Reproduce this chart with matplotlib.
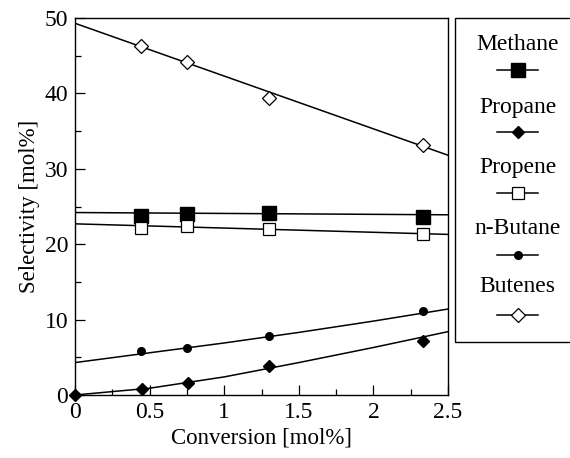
import numpy as np
import matplotlib
matplotlib.use('Agg')
import matplotlib.pyplot as plt
from matplotlib import font_manager
from matplotlib.patches import Rectangle
from matplotlib.ticker import MultipleLocator

# DATA
conv = [0.44, 0.75, 1.30, 2.33]
methane = [23.8, 24.0, 24.2, 23.6]
propene = [22.2, 22.4, 22.0, 21.3]
nbutane = [5.8, 6.2, 7.8, 11.1]
butenes = [46.3, 44.2, 39.4, 33.2]
propane_x = [0.0, 0.45, 0.76, 1.30, 2.33]
propane = [0.0, 0.8, 1.6, 3.8, 7.2]

# fitted curves as drawn in the figure
fit_x = [0.0, 0.5, 1.0, 1.5, 2.0, 2.5]
methane_fit = [24.2, 24.14, 24.08, 24.02, 23.96, 23.9]
propene_fit = [22.7, 22.42, 22.14, 21.86, 21.58, 21.3]
butenes_fit = [49.3, 45.8, 42.3, 38.8, 35.3, 31.8]
nbutane_fit = [4.3, 5.6, 6.9, 8.3, 9.8, 11.4]
propane_fit = [0.0, 0.9, 2.4, 4.3, 6.3, 8.4]

names = ['Methane', 'Propane', 'Propene', 'n-Butane', 'Butenes']

# FONT - Times-like serif
try:
    font_manager.fontManager.addfont('/usr/share/fonts/truetype/liberation/LiberationSerif-Regular.ttf')
except Exception:
    pass
plt.rcParams['font.family'] = ['Liberation Serif', 'DejaVu Serif']
plt.rcParams['font.size'] = 16

# PLOT
W, H = 570, 458
fig = plt.figure(figsize=(W / 100, H / 100), dpi=100)
ax = fig.add_axes([75 / W, 1 - 395 / H, (448 - 75) / W, (395 - 18) / H])

styles = {
    'Methane': dict(marker='s', ms=9.5, mfc='black', mec='black'),
    'Propane': dict(marker='D', ms=6.5, mfc='black', mec='black'),
    'Propene': dict(marker='s', ms=8.5, mfc='white', mec='black', mew=0.9),
    'n-Butane': dict(marker='o', ms=5.5, mfc='black', mec='black'),
    'Butenes': dict(marker='D', ms=7, mfc='white', mec='black', mew=0.9),
}

lw = 1.1
ax.plot(fit_x, butenes_fit, color='black', lw=lw)
ax.plot(fit_x, methane_fit, color='black', lw=lw)
ax.plot(fit_x, propene_fit, color='black', lw=lw)
ax.plot(fit_x, nbutane_fit, color='black', lw=lw)
ax.plot(fit_x, propane_fit, color='black', lw=lw)

ax.plot(conv, butenes, ls='none', clip_on=False, zorder=3, **styles['Butenes'])
ax.plot(conv, methane, ls='none', clip_on=False, zorder=3, **styles['Methane'])
ax.plot(conv, propene, ls='none', clip_on=False, zorder=3, **styles['Propene'])
ax.plot(conv, nbutane, ls='none', clip_on=False, zorder=3, **styles['n-Butane'])
ax.plot(propane_x, propane, ls='none', clip_on=False, zorder=3, **styles['Propane'])

ax.set_xlim(0, 2.5)
ax.set_ylim(0, 50)
ax.xaxis.set_minor_locator(MultipleLocator(0.25))
ax.yaxis.set_major_locator(MultipleLocator(10))
ax.yaxis.set_minor_locator(MultipleLocator(5))
ax.set_xticks([0, 0.5, 1, 1.5, 2, 2.5])
ax.set_xticklabels(['0', '0.5', '1', '1.5', '2', '2.5'])
ax.tick_params(which='both', direction='in', top=False, right=False, width=0.9)
ax.tick_params(which='major', length=7, labelsize=17, pad=5)
ax.tick_params(which='minor', length=4)
for s in ax.spines.values():
    s.set_linewidth(1.0)
ax.set_xlabel('Conversion [mol%]', fontsize=16.5, labelpad=3)
ax.set_ylabel('Selectivity [mol%]', fontsize=16.5, labelpad=3)

# legend box on the right, label above its symbol
lax = fig.add_axes([455 / W, 1 - 342 / H, 125 / W, (342 - 18) / H])
lax.set_xlim(0, 1)
lax.set_ylim(0, 1)
lax.axis('off')
lax.add_patch(Rectangle((0, 0), 1, 1, fill=False, lw=1.0, ec='black',
                        transform=lax.transAxes, clip_on=False))
text_y = [45, 107, 168, 228, 287]
mark_y = [70, 132, 193, 255, 315]
for name, ty, my in zip(names, text_y, mark_y):
    yt = (342 - ty) / 324
    ym = (342 - my) / 324
    lax.text(0.5, yt, name, ha='center', va='center', fontsize=17)
    lax.plot([0.336, 0.664], [ym, ym], color='black', lw=lw)
    lax.plot([0.5], [ym], ls='none', **styles[name])

fig.savefig('out.png', dpi=100)
